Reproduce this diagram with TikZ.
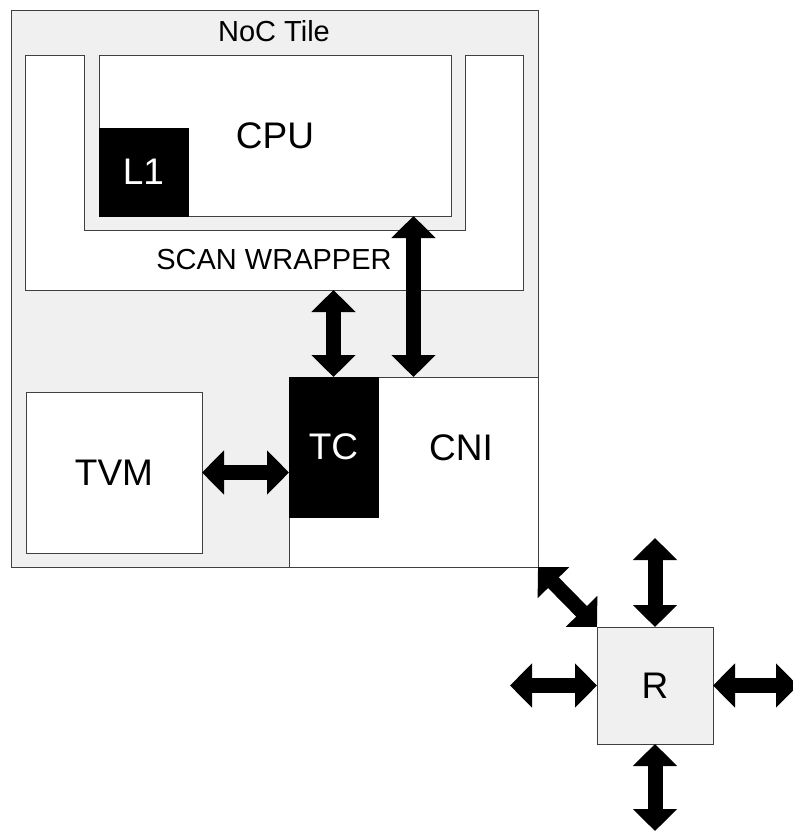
\documentclass[tikz,border=0pt]{standalone}
\usepackage{fontspec}
\setmainfont{Liberation Sans}
\usetikzlibrary{arrows.meta}
\definecolor{tilegray}{HTML}{F0F0F0}
\definecolor{edgegray}{HTML}{404040}
\begin{document}
\begin{tikzpicture}[x=1pt,y=-1pt,
  box/.style={draw=edgegray,line width=0.9pt,fill=white,inner sep=0pt,outer sep=0pt,anchor=north west},
  bigtext/.style={font=\fontsize{37}{40}\selectfont},
  smalltext/.style={font=\fontsize{29}{32}\selectfont},
  dblarrow/.style={line width=15pt,{Triangle[width=43pt,length=22pt]}-{Triangle[width=43pt,length=22pt]}}]
\useasboundingbox (0,0) rectangle (793,831);
\clip (0,0) rectangle (793,831);
% tile
\node[box,fill=tilegray,minimum width=527pt,minimum height=557pt] (tile) at (11,10) {};
\node[smalltext] (tilelabel) at (274,31) {NoC Tile};
% scan wrapper
\node[inner sep=0pt,outer sep=0pt,anchor=north west,minimum width=498pt,minimum height=235pt] (wrap) at (25,55) {};
\draw[draw=edgegray,line width=0.9pt,fill=white] (25,55) -- (84,55) -- (84,230) -- (465,230) -- (465,55) -- (523,55) -- (523,290) -- (25,290) -- cycle;
\node[smalltext] (wraplabel) at (274,260) {SCAN WRAPPER};
% CPU
\node[box,minimum width=352pt,minimum height=161pt,bigtext] (cpu) at (99,55) {CPU};
\node[box,fill=black,draw=black,minimum width=89pt,minimum height=88pt,bigtext,text=white] (l1) at (99,128) {L1};
% TVM
\node[box,minimum width=176pt,minimum height=161pt,bigtext] (tvm) at (26,392) {TVM};
% CNI and TC
\node[box,minimum width=249pt,minimum height=190pt] (cni) at (289,377) {};
\node[bigtext] (cnilabel) at (461,448) {CNI};
\node[box,fill=black,draw=black,minimum width=89pt,minimum height=140pt,bigtext,text=white] (tc) at (289,377) {TC};
% router
\node[box,fill=tilegray,minimum width=116pt,minimum height=117pt,bigtext] (r) at (597,627) {R};
% arrows inside tile
\draw[dblarrow] (tvm.east) -- (tvm.east -| tc.west);
\draw[dblarrow] (tc.north |- wrap.south) -- (tc.north);
\draw[dblarrow] (cni.north |- cpu.south) -- (cni.north);
% router arrows
\draw[dblarrow] (cni.south east) -- (r.north west);
\coordinate (rtop) at (655,538);
\coordinate (rbot) at (655,831);
\coordinate (rleft) at (510,685.5);
\coordinate (rright) at (798,685.5);
\draw[dblarrow] (rtop) -- (r.north);
\draw[dblarrow] (r.south) -- (rbot);
\draw[dblarrow] (rleft) -- (r.west);
\draw[dblarrow] (r.east) -- (rright);
\end{tikzpicture}
\end{document}
